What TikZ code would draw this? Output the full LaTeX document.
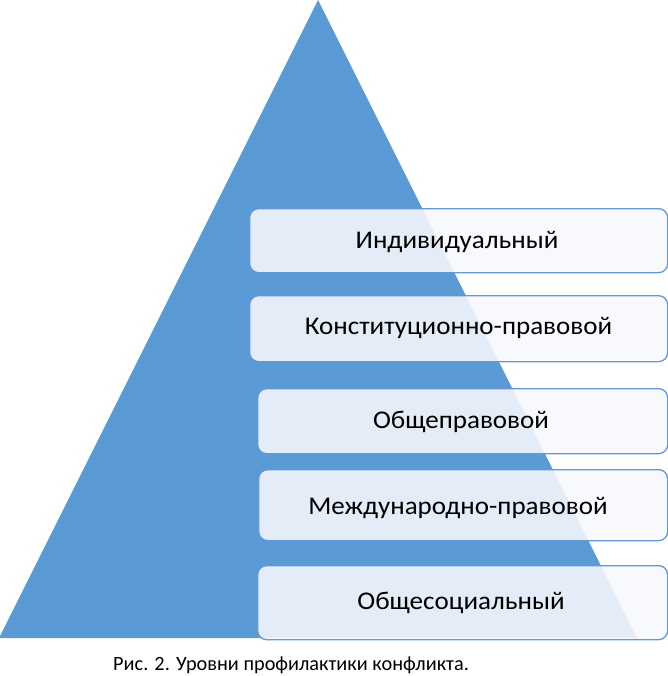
\documentclass[tikz,border=0pt]{standalone}
\usepackage{fontspec}
\setmainfont{Carlito}
\newfontfamily\boxfont[FakeStretch=1.06]{Carlito}
\definecolor{tri}{RGB}{91,155,213}
\definecolor{boxfill}{RGB}{246,248,252}
\definecolor{boxline}{RGB}{100,152,210}
\tikzset{
  lvl/.style={draw=boxline, line width=1.3bp, fill=boxfill, fill opacity=0.88, text opacity=1,
    rounded corners=9bp, minimum height=#1, anchor=north west, inner sep=0pt},
  lbl/.style={anchor=base, inner sep=0pt, font=\boxfont\fontsize{25.5bp}{30bp}\selectfont},
}
\begin{document}
\begin{tikzpicture}[x=1bp,y=-1bp]
\useasboundingbox (0,0) rectangle (668,676);
\fill[tri] (318,0) coordinate (apex) -- (637,638) coordinate (br) -- (-1,638) coordinate (bl) -- cycle;
\node[lvl=64bp, minimum width=418bp] (l1) at (249,208) {};
\node[lbl] (t1) at (457,248) {Индивидуальный};
\node[lvl=66bp, minimum width=418bp] (l2) at (249,295) {};
\node[lbl] (t2) at (458.5,334) {Конституционно-правовой};
\node[lvl=65bp, minimum width=410bp] (l3) at (257,388) {};
\node[lbl] (t3) at (461,428) {Общеправовой};
\node[lvl=71bp, minimum width=409bp] (l4) at (258,469) {};
\node[lbl] (t4) at (458,514) {Международно-правовой};
\node[lvl=74bp, minimum width=410bp] (l5) at (257,565) {};
\node[lbl] (t5) at (461,609) {Общесоциальный};
\node[anchor=base west, inner sep=0pt] (cap) at (113,670.5) {\fontsize{20.3bp}{24bp}\selectfont Рис. 2. Уровни профилактики конфликта.};
\end{tikzpicture}
\end{document}
